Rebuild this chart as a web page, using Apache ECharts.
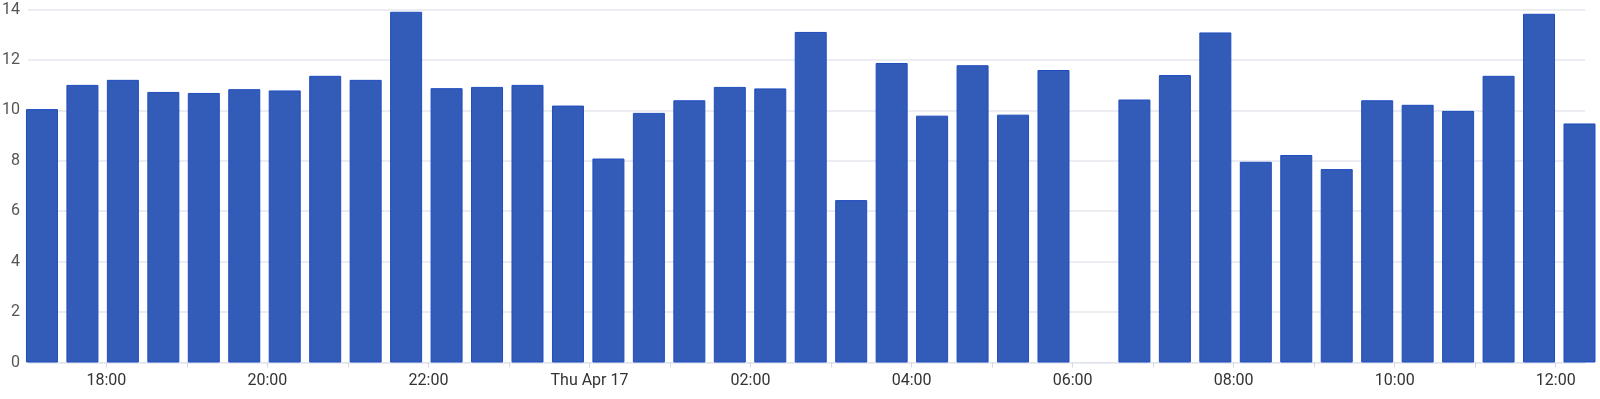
<!DOCTYPE html>
<html>
<head>
<meta charset="utf-8">
<script src="https://cdn.jsdelivr.net/npm/echarts@6/dist/echarts.min.js"></script>
<style>
html,body{margin:0;padding:0;background:#fff;}
#chart{width:1600px;height:399px;}
</style>
</head>
<body>
<div id="chart"></div>
<script>
// Bar timestamps (UTC), one bucket about every 30 minutes
const times = [
  '2025-04-16T17:12:00Z','2025-04-16T17:42:09Z','2025-04-16T18:12:18Z','2025-04-16T18:42:27Z',
  '2025-04-16T19:12:36Z','2025-04-16T19:42:45Z','2025-04-16T20:12:54Z','2025-04-16T20:43:03Z',
  '2025-04-16T21:13:12Z','2025-04-16T21:43:21Z','2025-04-16T22:13:30Z','2025-04-16T22:43:39Z',
  '2025-04-16T23:13:48Z','2025-04-16T23:43:57Z','2025-04-17T00:14:06Z','2025-04-17T00:44:15Z',
  '2025-04-17T01:14:24Z','2025-04-17T01:44:33Z','2025-04-17T02:14:42Z','2025-04-17T02:44:51Z',
  '2025-04-17T03:15:00Z','2025-04-17T03:45:09Z','2025-04-17T04:15:18Z','2025-04-17T04:45:27Z',
  '2025-04-17T05:15:36Z','2025-04-17T05:45:45Z','2025-04-17T06:15:54Z','2025-04-17T06:46:03Z',
  '2025-04-17T07:16:12Z','2025-04-17T07:46:21Z','2025-04-17T08:16:30Z','2025-04-17T08:46:39Z',
  '2025-04-17T09:16:48Z','2025-04-17T09:46:57Z','2025-04-17T10:17:06Z','2025-04-17T10:47:15Z',
  '2025-04-17T11:17:24Z','2025-04-17T11:47:33Z','2025-04-17T12:17:42Z'
];
const values = [
  10.05, 11.01, 11.21, 10.73, 10.69, 10.84, 10.79, 11.37, 11.21, 13.91,
  10.88, 10.93, 11.01, 10.19, 8.09, 9.90, 10.40, 10.93, 10.87, 13.11,
  6.44, 11.88, 9.79, 11.79, 9.83, 11.60, null, 10.43, 11.40, 13.09,
  7.96, 8.23, 7.67, 10.40, 10.22, 9.98, 11.37, 13.83, 9.48
];
const tickHours  = [18, 20, 22, 0, 2, 4, 6, 8, 10, 12];
const tickLabels = ['18:00','20:00','22:00','Thu Apr 17','02:00','04:00','06:00','08:00','10:00','12:00'];
// Axis bounds as set; ECharts widens a time axis by half a bar on each side,
// so the visible range becomes about 17:01:36 .. 12:21:48.
const xMin = '2025-04-16T17:13:31Z';
const xMax = '2025-04-17T12:09:53Z';

const data = times.map((t, i) => [t, values[i]]);

const chart = echarts.init(document.getElementById('chart'), null, {renderer: 'canvas'});
chart.setOption({
  animation: false,
  useUTC: true,
  backgroundColor: '#ffffff',
  textStyle: {fontFamily: 'Roboto, sans-serif'},
  grid: {left: 28, right: 15, top: 9.5, bottom: 36.5, containLabel: false, outerBoundsMode: 'none'},
  xAxis: {
    type: 'time',
    min: xMin,
    max: xMax,
    minInterval: 2 * 3600 * 1000,
    maxInterval: 2 * 3600 * 1000,
    axisLine: {show: true, lineStyle: {color: '#dfe3ec', width: 1}},
    axisTick: {show: true, length: 5, lineStyle: {color: '#d5d9e2'}},
    splitLine: {show: false},
    axisLabel: {
      color: '#333333',
      fontSize: 16,
      margin: 10,
      hideOverlap: false,
      formatter: function (v) {
        const d = new Date(v);
        if (d.getUTCMinutes() !== 0) return '';
        const idx = tickHours.indexOf(d.getUTCHours());
        return idx >= 0 ? tickLabels[idx] : '';
      }
    }
  },
  yAxis: {
    type: 'value',
    min: 0,
    max: 14,
    interval: 2,
    axisLine: {show: false},
    axisTick: {show: false},
    axisLabel: {color: '#555555', fontSize: 16, margin: 8},
    splitLine: {show: true, lineStyle: {color: '#e4e7ef', width: 1.5}}
  },
  series: [{
    type: 'bar',
    data: data,
    barWidth: 32,
    clip: true,
    itemStyle: {color: '#325cb8', borderColor: '#1f4dbf', borderWidth: 1}
  }]
});
</script>
</body>
</html>
